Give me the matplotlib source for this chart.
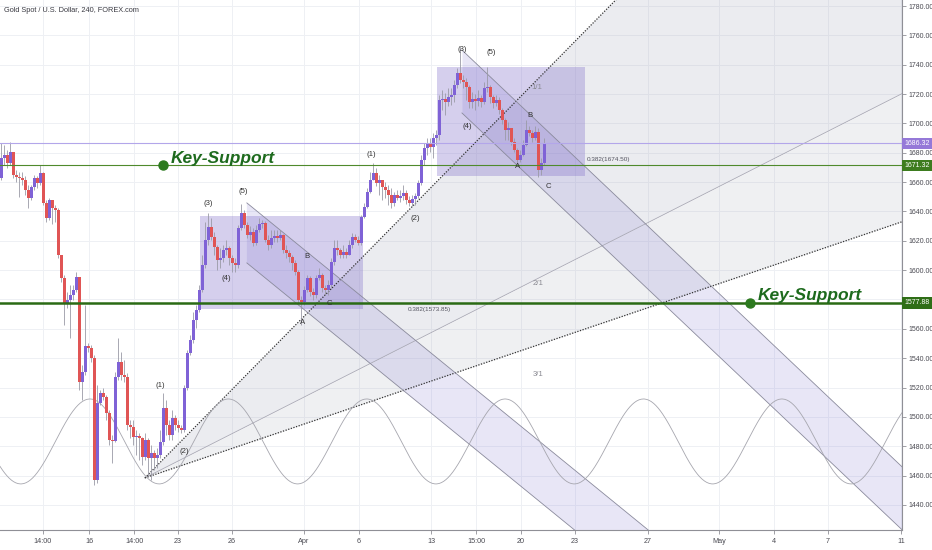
import matplotlib
matplotlib.use('Agg')
import matplotlib.pyplot as plt
import numpy as np
from matplotlib.transforms import blended_transform_factory
from matplotlib.patches import Rectangle

plt.rcParams['font.family'] = ['Liberation Sans Narrow', 'Liberation Sans', 'DejaVu Sans']

# ---------------- data (4H candles, bar index = position) ----------------
first_open = 1662.8
closes = [
    1676.4, 1678.5, 1673.0, 1680.5, 1664.8, 1663.5, 1662.8, 1661.4, 1654.6, 1649.2,
    1656.7, 1662.8, 1659.4, 1666.2, 1645.8, 1635.5, 1647.8, 1642.4, 1641.0, 1610.3,
    1594.7, 1577.6, 1579.7, 1583.1, 1586.5, 1595.4, 1523.8, 1530.6, 1548.3, 1547.0,
    1540.2, 1457.0, 1509.5, 1516.3, 1513.6, 1502.7, 1484.3, 1483.6, 1527.2, 1537.4,
    1528.6, 1527.2, 1494.5, 1493.1, 1486.3, 1487.0, 1485.6, 1472.7, 1484.3, 1472.0,
    1475.4, 1472.0, 1474.1, 1482.9, 1506.1, 1494.5, 1487.7, 1499.3, 1494.5, 1492.5,
    1491.1, 1519.7, 1543.6, 1552.4, 1566.1, 1572.9, 1586.5, 1603.5, 1620.6, 1629.4,
    1622.6, 1615.8, 1606.9, 1608.3, 1613.7, 1615.1, 1608.3, 1604.9, 1603.5, 1628.7,
    1639.0, 1630.8, 1624.0, 1626.0, 1618.5, 1627.4, 1631.5, 1632.1, 1620.6, 1617.2,
    1621.9, 1623.3, 1621.9, 1624.0, 1613.7, 1611.7, 1609.0, 1604.9, 1598.8, 1579.7,
    1578.3, 1586.5, 1594.7, 1585.1, 1583.1, 1594.7, 1596.7, 1587.9, 1586.5, 1589.9,
    1605.6, 1615.1, 1613.7, 1610.3, 1612.4, 1610.3, 1617.2, 1622.6, 1620.6, 1618.5,
    1636.2, 1643.0, 1653.3, 1661.4, 1666.2, 1659.4, 1661.4, 1656.7, 1654.6, 1651.2,
    1645.8, 1651.2, 1649.2, 1650.5, 1652.6, 1647.8, 1645.8, 1648.5, 1650.5, 1659.4,
    1675.1, 1683.2, 1686.0, 1683.9, 1690.1, 1692.1, 1716.0, 1716.6, 1714.6, 1717.9,
    1719.4, 1726.2, 1734.4, 1729.6, 1728.2, 1724.8, 1714.6, 1716.6, 1715.3, 1717.3,
    1714.6, 1724.1, 1724.8, 1717.9, 1713.9, 1716.0, 1709.1, 1702.3, 1695.5, 1696.9,
    1687.3, 1681.9, 1675.1, 1678.5, 1685.3, 1695.5, 1693.5, 1690.1, 1694.2, 1668.3,
    1673.0, 1686.3,
]
highs = [
    1686.7, 1685.3, 1681.9, 1687.3, 1680.5, 1668.3, 1666.9, 1666.9, 1664.2, 1658.0,
    1658.0, 1664.8, 1664.2, 1671.7, 1666.9, 1647.8, 1649.2, 1647.8, 1644.4, 1642.4,
    1610.3, 1596.7, 1585.1, 1589.9, 1589.9, 1598.8, 1595.4, 1535.4, 1576.3, 1550.4,
    1549.0, 1542.2, 1521.7, 1518.3, 1519.7, 1514.9, 1504.7, 1487.7, 1530.6, 1553.8,
    1544.2, 1538.8, 1529.9, 1497.9, 1497.9, 1491.1, 1489.0, 1486.3, 1489.0, 1485.6,
    1480.9, 1477.5, 1478.8, 1491.1, 1516.3, 1511.5, 1497.9, 1504.7, 1501.3, 1497.9,
    1494.5, 1521.7, 1545.6, 1555.8, 1571.5, 1576.3, 1589.9, 1610.3, 1632.8, 1639.0,
    1635.5, 1626.0, 1617.2, 1615.1, 1617.2, 1620.6, 1616.5, 1610.3, 1608.3, 1630.8,
    1645.1, 1641.0, 1632.8, 1630.1, 1628.7, 1630.8, 1635.5, 1634.2, 1633.5, 1624.0,
    1627.4, 1627.4, 1627.4, 1627.4, 1624.6, 1617.2, 1613.7, 1610.3, 1606.9, 1600.1,
    1582.4, 1589.2, 1596.7, 1596.0, 1587.9, 1596.7, 1601.5, 1598.1, 1589.9, 1593.3,
    1608.3, 1620.6, 1620.6, 1615.1, 1617.2, 1615.1, 1620.6, 1625.3, 1624.6, 1623.3,
    1637.6, 1645.8, 1656.0, 1666.9, 1673.0, 1669.6, 1664.8, 1661.4, 1660.1, 1658.0,
    1656.0, 1653.3, 1654.6, 1654.6, 1658.0, 1654.6, 1650.5, 1651.2, 1652.6, 1661.4,
    1678.5, 1686.7, 1690.1, 1690.1, 1693.5, 1695.5, 1719.4, 1722.8, 1720.7, 1724.1,
    1724.1, 1729.6, 1737.8, 1752.1, 1733.0, 1730.9, 1726.2, 1721.4, 1720.0, 1722.8,
    1719.4, 1728.2, 1738.4, 1726.2, 1719.4, 1719.4, 1718.0, 1710.5, 1703.7, 1701.0,
    1696.9, 1690.1, 1683.2, 1681.9, 1688.7, 1702.3, 1698.2, 1695.5, 1698.2, 1696.9,
    1676.4, 1690.1,
]
lows = [
    1661.4, 1671.7, 1669.6, 1671.7, 1662.8, 1660.1, 1649.9, 1658.0, 1651.2, 1642.4,
    1647.8, 1654.6, 1656.0, 1658.0, 1644.4, 1632.8, 1634.2, 1631.5, 1632.8, 1608.3,
    1591.9, 1562.6, 1574.2, 1553.8, 1579.7, 1585.1, 1518.3, 1511.5, 1528.6, 1544.2,
    1537.4, 1453.6, 1455.0, 1508.1, 1511.5, 1497.9, 1480.9, 1468.6, 1482.9, 1525.2,
    1525.2, 1523.8, 1491.1, 1485.6, 1480.9, 1474.0, 1470.6, 1467.2, 1470.6, 1459.7,
    1457.0, 1463.8, 1465.2, 1472.0, 1480.9, 1487.7, 1484.3, 1484.3, 1491.1, 1489.7,
    1489.0, 1489.7, 1518.3, 1542.2, 1550.4, 1560.6, 1571.5, 1585.1, 1601.5, 1617.2,
    1620.6, 1610.3, 1600.1, 1601.5, 1605.6, 1610.3, 1603.5, 1598.8, 1598.8, 1601.5,
    1627.4, 1628.7, 1621.9, 1620.6, 1616.5, 1617.2, 1626.0, 1628.7, 1619.2, 1613.7,
    1615.1, 1619.2, 1619.2, 1620.6, 1611.7, 1608.3, 1605.6, 1600.1, 1596.7, 1576.3,
    1562.6, 1576.3, 1585.1, 1582.4, 1579.7, 1581.0, 1593.3, 1585.1, 1583.1, 1583.1,
    1587.9, 1603.5, 1610.3, 1608.3, 1608.3, 1608.3, 1610.3, 1615.1, 1619.2, 1617.2,
    1617.2, 1635.5, 1642.4, 1652.6, 1661.4, 1657.4, 1651.2, 1647.8, 1649.2, 1644.4,
    1642.4, 1643.7, 1647.8, 1646.5, 1647.8, 1645.1, 1643.7, 1643.7, 1644.4, 1649.2,
    1658.0, 1671.7, 1678.5, 1680.5, 1676.4, 1685.3, 1688.7, 1709.1, 1705.7, 1711.9,
    1712.5, 1714.6, 1724.1, 1727.5, 1724.1, 1716.0, 1710.5, 1710.5, 1709.1, 1711.9,
    1711.2, 1713.2, 1721.4, 1713.9, 1710.5, 1711.9, 1706.4, 1699.6, 1688.7, 1688.7,
    1685.3, 1680.5, 1672.3, 1673.7, 1677.8, 1684.6, 1691.4, 1687.3, 1688.7, 1663.5,
    1664.8, 1671.7,
]

x_tick_pos = [13.8, 29.2, 44.2, 58.8, 76.8, 100.8, 119.2, 143.2, 158.2, 173.2,
              191.2, 215.5, 239.2, 257.5, 275.5, 299.8]
x_tick_labels = ['14:00', '16', '14:00', '23', '26', 'Apr', '6', '13', '15:00', '20',
                 '23', '27', 'May', '4', '7', '11']
y_ticks = list(range(1440, 1781, 20))
y_hidden = [1580]          # covered by the price label in the reference

last_price = 1686.32
support_upper = 1671.32
support_lower = 1577.88

# drawings
rect1 = (66.2, 120.5, 1573.85, 1636.9)     # x0, x1, y0, y1
rect2 = (145.2, 194.5, 1664.2, 1738.4)
fan_origin = (47.8, 1458.4)
fan_slope = 2.075                            # price per bar for 1/1
chan_a = ((81.8, 1645.8), (181.8, 1479.2), 40.9)
chan_b = ((153.5, 1750.0), (253.5, 1556.4), 42.9)
sine_peak_bar, sine_period = 29.5, 46.13
sine_top, sine_bottom = 1512.2, 1454.3

wave_labels = [('(1)', 52.8, 1521.7), ('(2)', 60.8, 1476.1), ('(3)', 68.8, 1645.1),
               ('(4)', 74.8, 1594.0), ('(5)', 80.5, 1653.3), ('B', 101.8, 1609.0),
               ('A', 100.2, 1564.0), ('C', 109.2, 1577.6), ('(1)', 123.2, 1678.5),
               ('(2)', 137.8, 1635.5), ('(3)', 153.5, 1750.7), ('(4)', 155.2, 1697.6),
               ('(5)', 163.2, 1748.0), ('B', 176.2, 1705.7), ('A', 172.2, 1670.3),
               ('C', 182.2, 1656.7)]
fan_labels = [('1/1', 178.5, 1724.8), ('2/1', 178.8, 1591.2), ('3/1', 178.8, 1529.2)]
fib_labels = [('0.382(1573.85)', 135.5, 1572.9), ('0.382(1674.50)', 195.2, 1675.1)]
key_support = [(53.8, support_upper), (249.5, support_lower)]

# ---------------- figure ----------------
W, H = 932, 550
fig = plt.figure(figsize=(W / 100, H / 100), dpi=100)
fig.patch.set_facecolor('white')
ax = fig.add_axes([0, 20 / H, 902 / W, 530 / H])
xmin, xmax = -0.5, 300.2
ymin, ymax = 1422.9, 1784.1
ax.set_xlim(xmin, xmax)
ax.set_ylim(ymin, ymax)

ax.set_axisbelow(True)
ax.grid(True, color='#eef0f4', lw=0.7, zorder=0)
for s in ['top', 'left']:
    ax.spines[s].set_visible(False)
for s in ['right', 'bottom']:
    ax.spines[s].set_color('#8f8f96')
    ax.spines[s].set_linewidth(0.8)
ax.yaxis.tick_right()
ax.set_yticks(y_ticks)
ax.set_yticklabels(['' if v in y_hidden else f'{v:.2f}' for v in y_ticks])
ax.set_xticks(x_tick_pos)
ax.set_xticklabels(x_tick_labels)
ax.tick_params(axis='y', direction='out', length=3, pad=1.5, labelsize=5.0,
               labelcolor='#4a4a52', color='#8f8f96', width=0.6)
ax.tick_params(axis='x', direction='out', length=3, pad=3, labelsize=5.2,
               labelcolor='#4a4a52', color='#8f8f96', width=0.6)

xs = np.linspace(xmin, xmax, 800)

# Gann fan
fx = np.linspace(fan_origin[0], xmax, 200)
fan = {r: fan_origin[1] + fan_slope / r * (fx - fan_origin[0]) for r in (1, 2, 3)}
ax.fill_between(fx, fan[2], fan[1], color='#9ea0b4', alpha=0.2, lw=0, zorder=1)
ax.fill_between(fx, fan[3], fan[2], color='#a4a6b6', alpha=0.17, lw=0, zorder=1)
ax.plot(fx, fan[1], color='#333333', lw=0.9, ls=(0, (1, 1.2)), zorder=2)
ax.plot(fx, fan[2], color='#a8a8b4', lw=0.6, zorder=2)
ax.plot(fx, fan[3], color='#333333', lw=0.9, ls=(0, (1, 1.2)), zorder=2)

# parallel channels
for (p0, p1, width) in (chan_a, chan_b):
    slope = (p1[1] - p0[1]) / (p1[0] - p0[0])
    cx = np.linspace(p0[0], xmax, 200)
    up = p0[1] + slope * (cx - p0[0])
    lo = up - width
    ax.fill_between(cx, lo, up, color='#8c84d6', alpha=0.2, lw=0, zorder=1.5)
    ax.plot(cx, up, color='#8a8a9c', lw=0.6, zorder=2)
    ax.plot(cx, lo, color='#8a8a9c', lw=0.6, zorder=2)

# rectangles
for (x0, x1, y0, y1) in (rect1, rect2):
    ax.add_patch(Rectangle((x0, y0), x1 - x0, y1 - y0, facecolor='#7e6cc9',
                           alpha=0.32, edgecolor='none', zorder=1.6))

# sine line
amp = (sine_top - sine_bottom) / 2
mid = (sine_top + sine_bottom) / 2
ax.plot(xs, mid + amp * np.cos(2 * np.pi * (xs - sine_peak_bar) / sine_period),
        color='#a6a6ae', lw=0.6, zorder=2)

# candles
n = len(closes)
opens = [first_open] + closes[:-1]
idx = np.arange(n)
o = np.array(opens); c = np.array(closes)
hi = np.maximum(np.array(highs), np.maximum(o, c))
lo_ = np.minimum(np.array(lows), np.minimum(o, c))
up_mask = c >= o
ax.vlines(idx, lo_, hi, color='#9a9aa6', lw=0.6, zorder=3)
body_bottom = np.minimum(o, c)
body_h = np.maximum(np.abs(c - o), 0.8)
colors = np.where(up_mask, '#7f62d6', '#e05555')
ax.bar(idx, body_h, bottom=body_bottom, width=0.78, color=colors, lw=0, zorder=3.2)

# horizontal levels
ax.axhline(last_price, color='#b3a6ea', lw=0.8, zorder=4)
ax.axhline(support_upper, color='#4f8a2c', lw=0.8, zorder=4)
ax.axhline(support_lower, color='#2a6a14', lw=1.8, zorder=4)

# Key-Support markers
for (bx, by) in key_support:
    ax.plot([bx], [by], 'o', color='#2d7a1f', ms=6.5, zorder=6)
    ax.text(bx + 2.6, by + 5.0, 'Key-Support', fontsize=12.5, fontweight='bold',
            fontstyle='italic', color='#1d6a1d', ha='left', va='center', zorder=6)

for (t, bx, by) in wave_labels:
    ax.text(bx, by, t, fontsize=5.6, color='#333333', ha='center', va='center', zorder=6)
for (t, bx, by) in fan_labels:
    ax.text(bx, by, t, fontsize=5.6, color='#8a8a92', ha='center', va='center', zorder=6)
for (t, bx, by) in fib_labels:
    ax.text(bx, by, t, fontsize=4.6, color='#555560', ha='left', va='center', zorder=6)

# price labels on axis
trans = blended_transform_factory(ax.transAxes, ax.transData)
for val, fc in ((last_price, '#9579d8'), (support_upper, '#3d7c1f'), (support_lower, '#2f6e17')):
    ax.text(1.0025, val, f'{val:.2f}', transform=trans, fontsize=5.0, color='white',
            ha='left', va='center', clip_on=False, zorder=10,
            bbox=dict(boxstyle='square,pad=0.35', fc=fc, ec='none'))

fig.text(4 / W, 1 - 11 / H, 'Gold Spot / U.S. Dollar, 240, FOREX.com', fontsize=5.3,
         color='#3a3a42', ha='left', va='center')

fig.savefig('out.png', dpi=100, facecolor='white')
